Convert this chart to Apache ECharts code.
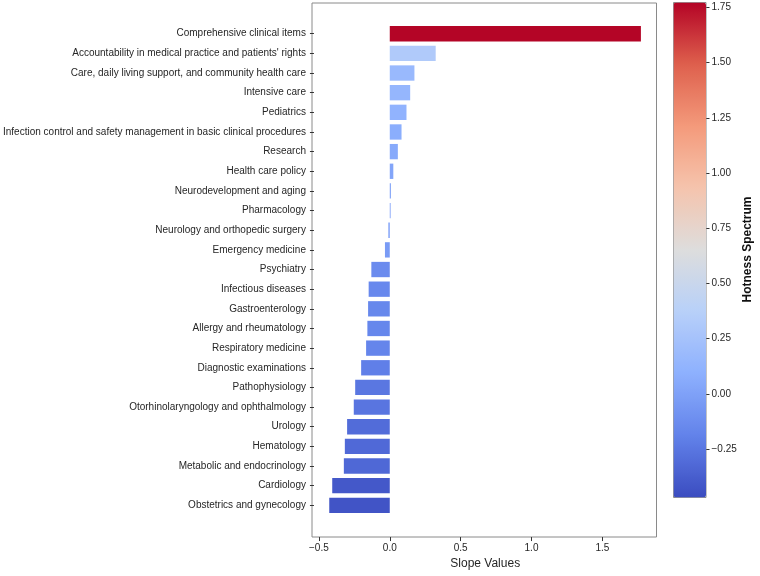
<!DOCTYPE html>
<html>
<head>
<meta charset="utf-8">
<script src="https://cdn.jsdelivr.net/npm/echarts@6/dist/echarts.min.js"></script>
<style>
  html, body { margin: 0; padding: 0; background: #fff; }
  #chart_slope { width: 760px; height: 576px; }
</style>
</head>
<body>
<div id="chart_slope"></div>
<script>
// categories top -> bottom
var categories = [
  'Comprehensive clinical items',
  "Accountability in medical practice and patients' rights",
  'Care, daily living support, and community health care',
  'Intensive care',
  'Pediatrics',
  'Infection control and safety management in basic clinical procedures',
  'Research',
  'Health care policy',
  'Neurodevelopment and aging',
  'Pharmacology',
  'Neurology and orthopedic surgery',
  'Emergency medicine',
  'Psychiatry',
  'Infectious diseases',
  'Gastroenterology',
  'Allergy and rheumatology',
  'Respiratory medicine',
  'Diagnostic examinations',
  'Pathophysiology',
  'Otorhinolaryngology and ophthalmology',
  'Urology',
  'Hematology',
  'Metabolic and endocrinology',
  'Cardiology',
  'Obstetrics and gynecology'
];
var slopeValues = [
  1.772, 0.324, 0.174, 0.144, 0.118, 0.083, 0.057, 0.025, 0.008, 0.006,
  -0.010, -0.034, -0.130, -0.149, -0.153, -0.158, -0.167, -0.202, -0.244,
  -0.254, -0.301, -0.317, -0.324, -0.406, -0.427
];
var xTicks = [-0.5, 0, 0.5, 1.0, 1.5];
var colorbarTicks = [-0.25, 0, 0.25, 0.5, 0.75, 1.0, 1.25, 1.5, 1.75];
var colorMin = -0.4675, colorMax = 1.775;
// matplotlib coolwarm
var coolwarm = ['#3b4cc0', '#6282ea', '#8db0fe', '#b8d0f9', '#dddddd',
                '#f5c4ad', '#f49a7b', '#de604d', '#b40426'];

function fmtMinus(s) { return s.replace('-', '\u2212'); }

var chart_slope = echarts.init(document.getElementById('chart_slope'));
var txt = '#262626';
var font = 'Liberation Sans, Arial, sans-serif';

var option_slope = {
  animation: false,
  textStyle: { fontFamily: font },
  grid: [
    // bars
    { left: 312, width: 344.5, top: 23.9, height: 491.25 },
    // colorbar axis
    { left: 673, width: 32.5, top: 2, height: 495 },
    // frame of plot
    { left: 312, width: 344.5, top: 3, height: 534, show: true,
      borderColor: '#8a8a8a', borderWidth: 1, backgroundColor: 'transparent' }
  ],
  xAxis: [
    {
      gridIndex: 0, type: 'value', min: -0.535, max: 1.882,
      offset: 21.9,
      splitLine: { show: false },
      axisLine: { show: false, onZero: false },
      axisTick: { show: true, length: 4, lineStyle: { color: '#333' }, customValues: xTicks },
      axisLabel: { color: txt, fontSize: 10, margin: 6, customValues: xTicks,
        formatter: function (v) { return fmtMinus(v.toFixed(1)); } },
      name: 'Slope Values', nameLocation: 'middle', nameGap: 21,
      nameTextStyle: { color: txt, fontSize: 12 }
    },
    { gridIndex: 1, type: 'value', min: 0, max: 1, show: false },
    { gridIndex: 2, type: 'value', min: 0, max: 1, show: false }
  ],
  yAxis: [
    {
      gridIndex: 0, type: 'category', data: categories, inverse: true,
      axisLine: { show: false, onZero: false },
      axisTick: { show: true, alignWithLabel: true, length: 4, lineStyle: { color: '#333' } },
      axisLabel: { color: txt, fontSize: 10, margin: 8 }
    },
    {
      gridIndex: 1, type: 'value', position: 'right', min: colorMin, max: colorMax,
      splitLine: { show: false },
      axisLine: { show: false, onZero: false },
      axisTick: { show: true, length: 4, lineStyle: { color: '#333' }, customValues: colorbarTicks },
      axisLabel: { color: txt, fontSize: 10, margin: 6, customValues: colorbarTicks,
        formatter: function (v) { return fmtMinus(v.toFixed(2)); } },
      name: 'Hotness Spectrum', nameLocation: 'middle', nameGap: 36, nameRotate: 90,
      nameTextStyle: { color: '#111', fontSize: 12, fontWeight: 'bold' }
    },
    { gridIndex: 2, type: 'value', min: 0, max: 1, show: false }
  ],
  visualMap: {
    type: 'continuous',
    seriesIndex: 0,
    dimension: 0,
    min: colorMin,
    max: colorMax,
    calculable: false,
    text: null,
    showLabel: false,
    left: 673,
    top: 2,
    padding: 0,
    itemWidth: 32.5,
    itemHeight: 495,
    borderColor: '#8a8a8a',
    borderWidth: 1,
    inRange: { color: coolwarm }
  },
  series: [
    {
      type: 'bar',
      xAxisIndex: 0, yAxisIndex: 0,
      data: slopeValues,
      barWidth: '78%'
    }
  ]
};
chart_slope.setOption(option_slope);
</script>
</body>
</html>
